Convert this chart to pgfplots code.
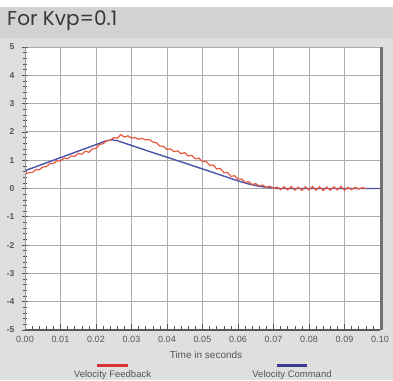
\documentclass[border=0pt]{standalone}
\usepackage{fontspec}
\setmainfont{Liberation Sans}
\newfontfamily\titlefont{Poppins}
\usepackage{pgfplots}
\pgfplotsset{compat=1.18}
\definecolor{bgA}{HTML}{DFDFDF}
\definecolor{bgT}{HTML}{D2D2D2}
\definecolor{redL}{HTML}{E85A40}
\definecolor{blueL}{HTML}{4B52A8}
\definecolor{gridc}{HTML}{ABABAB}
\definecolor{txt}{HTML}{555555}
\definecolor{legR}{HTML}{D63434}
\definecolor{legB}{HTML}{3C3C92}
\begin{document}
\begin{tikzpicture}[x=1pt,y=1pt]
\useasboundingbox (0,0) rectangle (393,380);
\fill[white] (0,0) rectangle (393,380);
\fill[bgT] (0,342) rectangle (393,373);
\fill[bgA] (0,0) rectangle (393,342);
\node[anchor=west, inner sep=0, text=black!78, font=\titlefont\fontsize{20}{20}\selectfont] at (7,359) {For Kvp=0.1};
\begin{axis}[
  at={(25pt,50pt)}, anchor=south west, scale only axis, width=355pt, height=283pt,
  xmin=0, xmax=0.1, ymin=-5, ymax=5,
  xtick={0,0.01,0.02,0.03,0.04,0.05,0.06,0.07,0.08,0.09,0.1},
  xticklabels={0.00,0.01,0.02,0.03,0.04,0.05,0.06,0.07,0.08,0.09,0.10},
  ytick={-5,-4,-3,-2,-1,0,1,2,3,4,5},
  yticklabels={-5,-4,-3,-2,-1,0,1,2,3,4,5},
  minor x tick num=4, minor y tick num=4,
  xtick pos=bottom, ytick pos=left,
  xtick align=inside, ytick align=center,
  major tick length=6pt, minor tick length=4pt,
  tick style={txt, line width=0.6pt},
  grid=major, major grid style={gridc, line width=0.8pt},
  axis line style={draw=none},
  axis background/.style={fill=white},
  xticklabel style={font=\fontsize{9}{9}\selectfont, text=txt, yshift=-3pt},
  yticklabel style={font=\fontsize{8.5}{8.5}\selectfont\bfseries, text=txt, xshift=-4pt},
  clip=false,
]
\addplot[blueL, line width=1.4pt] coordinates {
(0,0.63) (0.010,1.09) (0.020,1.55) (0.0225,1.67) (0.0245,1.72) (0.026,1.69)
(0.035,1.31) (0.045,0.90) (0.055,0.48) (0.060,0.27) (0.063,0.16) (0.066,0.08)
(0.069,0.025) (0.072,0.0) (0.1,0.0)
};
\addplot[redL, line width=1.2pt] coordinates {
(0.000,0.50) (0.001,0.56) (0.002,0.56) (0.003,0.66) (0.004,0.66) (0.005,0.76)
(0.006,0.77) (0.007,0.88) (0.008,0.88) (0.009,0.98) (0.010,0.97) (0.011,1.07)
(0.012,1.05) (0.013,1.15) (0.014,1.13) (0.015,1.24) (0.016,1.21) (0.017,1.32)
(0.018,1.28) (0.019,1.40) (0.020,1.42) (0.021,1.56) (0.022,1.58) (0.023,1.70)
(0.024,1.70) (0.025,1.80) (0.026,1.78) (0.027,1.90) (0.028,1.82) (0.029,1.86)
(0.030,1.78) (0.031,1.80) (0.032,1.74) (0.033,1.77) (0.034,1.72) (0.035,1.73)
(0.036,1.64) (0.037,1.62) (0.038,1.50) (0.039,1.49) (0.040,1.38) (0.041,1.40)
(0.042,1.30) (0.043,1.33) (0.044,1.23) (0.045,1.27) (0.046,1.15) (0.047,1.17)
(0.048,1.05) (0.049,1.07) (0.050,0.95) (0.051,0.96) (0.052,0.82) (0.053,0.83)
(0.054,0.69) (0.055,0.71) (0.056,0.56) (0.057,0.57) (0.058,0.43) (0.059,0.45)
(0.060,0.33) (0.061,0.34) (0.062,0.22) (0.063,0.24) (0.064,0.14) (0.065,0.17)
(0.066,0.09) (0.067,0.12) (0.068,0.04) (0.069,0.08) (0.070,0.00) (0.071,0.05)
(0.072,-0.04) (0.073,0.06) (0.074,-0.05) (0.075,0.07) (0.076,-0.06) (0.077,0.05)
(0.078,-0.07) (0.079,0.06) (0.080,-0.05) (0.081,0.07) (0.082,-0.06) (0.083,0.06)
(0.084,-0.07) (0.085,0.05) (0.086,-0.06) (0.087,0.06) (0.088,-0.05) (0.089,0.07)
(0.090,-0.06) (0.091,0.04) (0.092,-0.04) (0.093,0.04) (0.094,-0.02) (0.095,0.03)
(0.096,0.00)
};
\draw[black!40, line width=0.6pt] (rel axis cs:0,0) -- (rel axis cs:0,1);
\draw[black!65, line width=2.6pt] (rel axis cs:0,0) -- (rel axis cs:1,0);
\draw[black!55, line width=2.8pt] ([xshift=1.4pt]rel axis cs:1,0) -- ([xshift=1.4pt]rel axis cs:1,1);
\end{axis}
\node[font=\fontsize{10}{10}\selectfont, text=txt, inner sep=0] at (206,25) {Time in seconds};
\draw[legR, line width=2.4pt] (97,14.5) -- (128,14.5);
\draw[legB, line width=2.4pt] (277,14.5) -- (307,14.5);
\node[anchor=base, font=\fontsize{9.5}{9.5}\selectfont, text=txt, inner sep=0] at (112.5,2.6) {Velocity Feedback};
\node[anchor=base, font=\fontsize{9.5}{9.5}\selectfont, text=txt, inner sep=0] at (292,2.6) {Velocity Command};
\end{tikzpicture}
\end{document}
